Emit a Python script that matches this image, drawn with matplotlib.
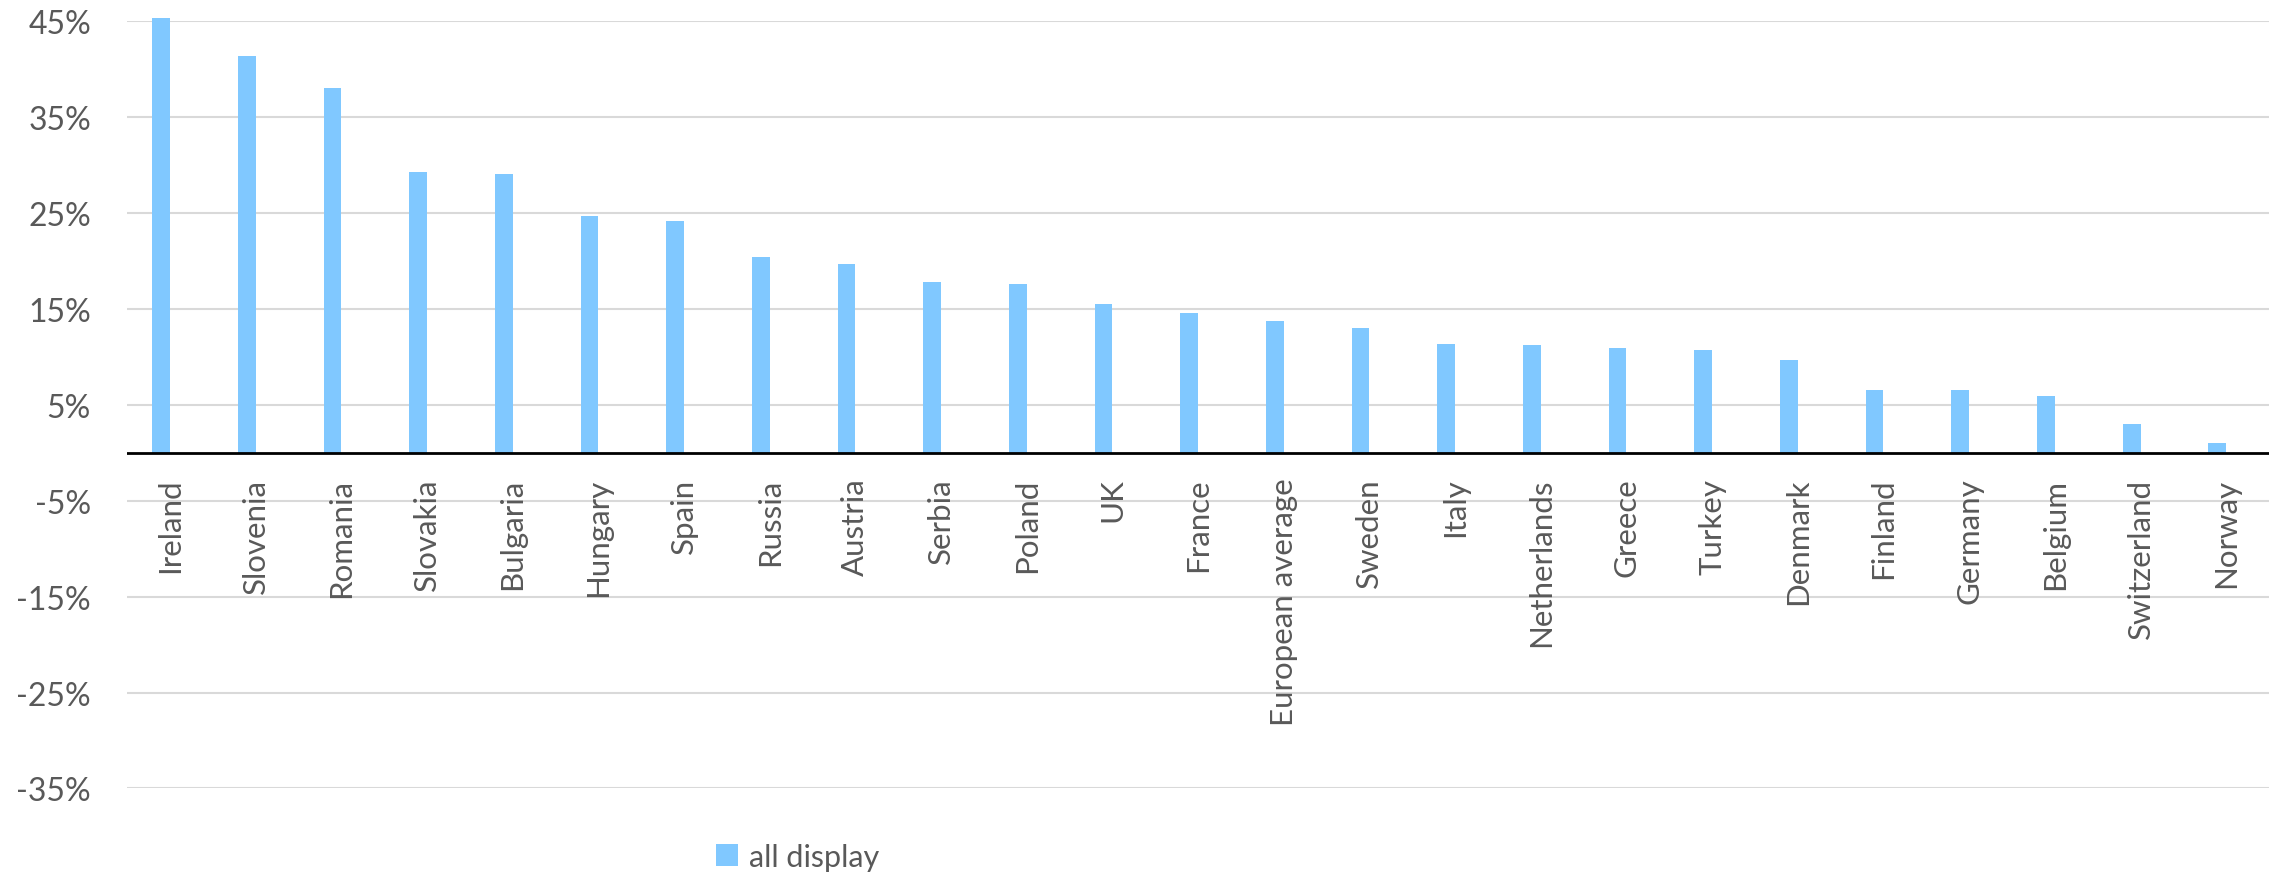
import matplotlib.pyplot as plt
from matplotlib.ticker import FuncFormatter
import numpy as np

plt.rcParams['font.family'] = ['Lato', 'DejaVu Sans']

# 数据
countries = ['Ireland', 'Slovenia', 'Romania', 'Slovakia', 'Bulgaria', 'Hungary',
             'Spain', 'Russia', 'Austria', 'Serbia', 'Poland', 'UK', 'France',
             'European average', 'Sweden', 'Italy', 'Netherlands', 'Greece',
             'Turkey', 'Denmark', 'Finland', 'Germany', 'Belgium', 'Switzerland',
             'Norway']
all_display = [45.3, 41.3, 38.0, 29.2, 29.0, 24.7, 24.1, 20.4, 19.6, 17.8,
               17.6, 15.5, 14.5, 13.7, 13.0, 11.3, 11.2, 10.9, 10.7, 9.6,
               6.5, 6.5, 5.9, 3.0, 1.0]
yticks = [-35, -25, -15, -5, 5, 15, 25, 35, 45]

text_color = '#595959'
bar_color = '#80C8FF'

fig = plt.figure(figsize=(22.77, 8.78), dpi=100)
ax = fig.add_axes([0.0558, 0.1008, 0.9407, 0.8745])

x = np.arange(len(countries))
bw = 0.207
bars = ax.bar(x - bw, all_display, width=bw, align='edge', color=bar_color,
              label='all display', zorder=3)
for b in bars:
    b.set_clip_on(False)

ax.set_xlim(-0.5, len(countries) - 0.5)
ax.set_ylim(-35, 45)
ax.set_yticks(yticks)
ax.yaxis.set_major_formatter(FuncFormatter(lambda v, p: f'{v:.0f}%'))
ax.grid(axis='y', color='#D9D9D9', linewidth=1.5, zorder=0)
ax.axhline(0, color='black', linewidth=2, zorder=4)

for s in ax.spines.values():
    s.set_visible(False)

ax.set_xticks([])
ax.tick_params(axis='y', length=0, pad=26, labelsize=23, labelcolor=text_color)

# 类别标签放在零线下方
for xi, name in zip(x, countries):
    ax.text(xi, -2.6, name, rotation=90, ha='center', va='top', fontsize=22.5,
            color=text_color)

leg = fig.legend(loc='center left', bbox_to_anchor=(0.3145, 0.0228),
                 frameon=False, fontsize=22, handlelength=0.72, handleheight=0.72,
                 handletextpad=0.36, borderpad=0, borderaxespad=0)
for t in leg.get_texts():
    t.set_color(text_color)

plt.savefig('out.png', dpi=100, facecolor='white')
